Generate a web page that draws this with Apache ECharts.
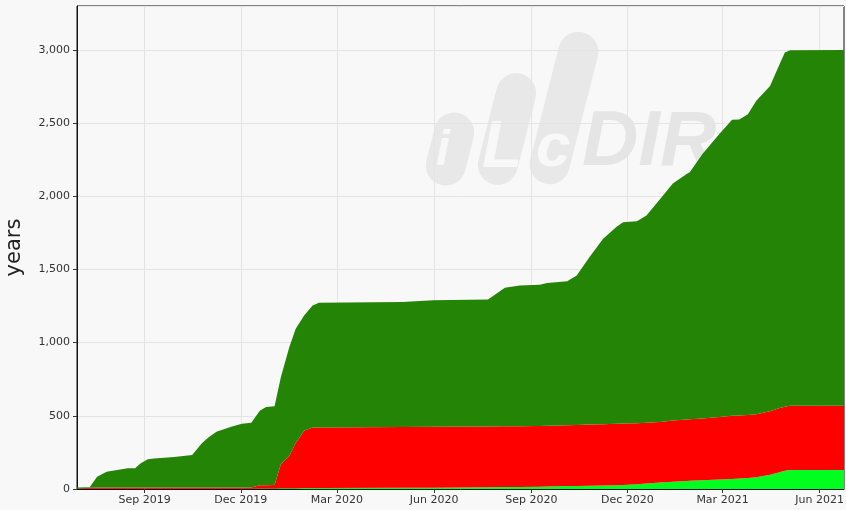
<!DOCTYPE html>
<html>
<head>
<meta charset="utf-8">
<script src="https://cdn.jsdelivr.net/npm/echarts@6/dist/echarts.min.js"></script>
<style>
html,body{margin:0;padding:0;background:#f8f8f8;}
#chart{width:846px;height:510px;}
</style>
</head>
<body>
<div id="chart"></div>
<script>
const dates = [
  '2019-06-29','2019-07-11','2019-07-18','2019-07-27','2019-08-06','2019-08-16','2019-08-23','2019-08-28',
  '2019-09-04','2019-09-10','2019-09-29','2019-10-16','2019-10-25','2019-10-31','2019-11-08','2019-11-22',
  '2019-12-02','2019-12-11','2019-12-19','2019-12-25','2020-01-02','2020-01-08','2020-01-16','2020-01-22',
  '2020-01-30','2020-02-07','2020-02-13','2020-05-02','2020-05-31','2020-07-22','2020-08-07','2020-08-21',
  '2020-09-09','2020-09-16','2020-10-05','2020-10-14','2020-10-26','2020-11-08','2020-11-21','2020-11-27',
  '2020-12-10','2020-12-19','2021-01-01','2021-01-13','2021-01-26','2021-01-29','2021-02-10','2021-02-26',
  '2021-03-10','2021-03-17','2021-03-25','2021-04-02','2021-04-15','2021-04-24','2021-04-29','2021-05-04',
  '2021-06-24'
];
const lightGreenValues = [
  2,2,2,2,2,2,2,2,
  2,2,2,2,2,2,2,2,
  2,2,3,3,4,5,5,5,
  6,6,6,8,9,12,13,14,
  16,17,20,21,22,24,26,27,
  33,38,44,50,55,56,60,65,
  68,72,76,80,98,115,124,130,
  130
];
const redValues = [
  2,6,8,8,8,8,8,8,
  8,8,8,8,8,8,8,8,
  8,9,22,22,23,165,220,310,
  392,414,414,416,416,415,415,414,
  414,415,415,416,418,419,420,421,
  417,415,414,418,419,420,422,427,
  432,430,429,430,434,438,438,438,
  438
];
const darkGreenValues = [
  6,4,74,108,120,131,131,165,
  194,199,208,222,301,340,381,415,
  435,441,509,536,539,596,745,780,
  788,834,853,853,864,868,947,963,
  965,975,985,1022,1144,1266,1347,1375,
  1379,1415,1524,1620,1678,1688,1807,1933,
  2023,2023,2056,2142,2222,2349,2420,2430,
  2432
];
const xTickDates = ['2019-09-01','2019-12-01','2020-03-01','2020-06-01','2020-09-01','2020-12-01','2021-03-01','2021-06-01'];
const monthNames = ['Jan','Feb','Mar','Apr','May','Jun','Jul','Aug','Sep','Oct','Nov','Dec'];
const yAxisName = 'years';

function ts(s){ const p = s.split('-').map(Number); return Date.UTC(p[0], p[1]-1, p[2]); }
const xTicks = xTickDates.map(ts);
const xMin = ts('2019-06-29'), xMax = ts('2021-06-24');

function mk(name, vals, color){
  return {
    name: name, type: 'line', stack: 'total', symbol: 'none', xAxisIndex: 0,
    smooth: false,
    lineStyle: {width: 0},
    areaStyle: {color: color, opacity: 1},
    itemStyle: {color: color},
    data: dates.map((d,i)=>[ts(d), vals[i]])
  };
}

const chart = echarts.init(document.getElementById('chart'));
const pillColor = '#e8e8e8';
chart.setOption({
  backgroundColor: '#f8f8f8',
  animation: false,
  textStyle: {fontFamily: 'DejaVu Sans'},
  grid: {left: 77, right: 2, top: 6, bottom: 21, outerBoundsMode: 'none', containLabel: false,
         show: true, borderColor: '#111', borderWidth: 1, backgroundColor: 'transparent'},
  graphic: [
    {type: 'rect', z: -10, x: 450, y: 149, rotation: -0.25, shape: {x: -20, y: -37, width: 40, height: 74, r: 20}, style: {fill: pillColor}},
    {type: 'rect', z: -10, x: 507, y: 129, rotation: -0.25, shape: {x: -20, y: -57, width: 40, height: 114, r: 20}, style: {fill: pillColor}},
    {type: 'rect', z: -10, x: 564, y: 108, rotation: -0.25, shape: {x: -20, y: -78, width: 40, height: 156, r: 20}, style: {fill: pillColor}},
    {type: 'text', z: -9, x: 436, y: 126, style: {text: 'i', font: 'italic bold 50px Liberation Sans', fill: '#f8f8f8'}},
    {type: 'text', z: -9, x: 482, y: 116, style: {text: 'L', font: 'italic bold 66px Liberation Sans', fill: '#f8f8f8'}},
    {type: 'text', z: -9, x: 536, y: 118, style: {text: 'c', font: 'italic bold 62px Liberation Sans', fill: '#f8f8f8'}},
    {type: 'text', z: -9, x: 582, y: 104, style: {text: 'DIR', font: 'italic bold 78px Liberation Sans', fill: '#e5e5e5'}}
  ],
  xAxis: [
    {type: 'time', min: xMin, max: xMax, show: false, splitLine: {show: false}},
    {
      type: 'value', min: xMin, max: xMax, position: 'bottom',
      axisLine: {show: true, lineStyle: {color: '#111', width: 1}},
      axisTick: {show: true, length: 4, customValues: xTicks, lineStyle: {color: '#333'}},
      axisLabel: {customValues: xTicks, color: '#333', fontSize: 11, margin: 6,
        formatter: function(v){ const d = new Date(v); return monthNames[d.getUTCMonth()] + ' ' + d.getUTCFullYear(); }},
      splitLine: {show: true, lineStyle: {color: '#e4e4e4', width: 1}}
    }
  ],
  yAxis: {
    type: 'value', min: 0, max: 3300, interval: 500,
    name: yAxisName, nameLocation: 'middle', nameGap: 52,
    nameTextStyle: {fontSize: 21, color: '#222', fontFamily: 'DejaVu Sans'},
    axisLine: {show: true, lineStyle: {color: '#111', width: 1}},
    axisTick: {show: true, length: 4, lineStyle: {color: '#333'}},
    axisLabel: {color: '#333', fontSize: 11, margin: 7, showMaxLabel: false,
      formatter: function(v){ return v.toLocaleString('en-US'); }},
    splitLine: {show: true, lineStyle: {color: '#e4e4e4', width: 1}}
  },
  series: [
    mk('light', lightGreenValues, '#00ff1e'),
    mk('red', redValues, '#ff0000'),
    mk('dark', darkGreenValues, '#248406')
  ]
});
</script>
</body>
</html>
